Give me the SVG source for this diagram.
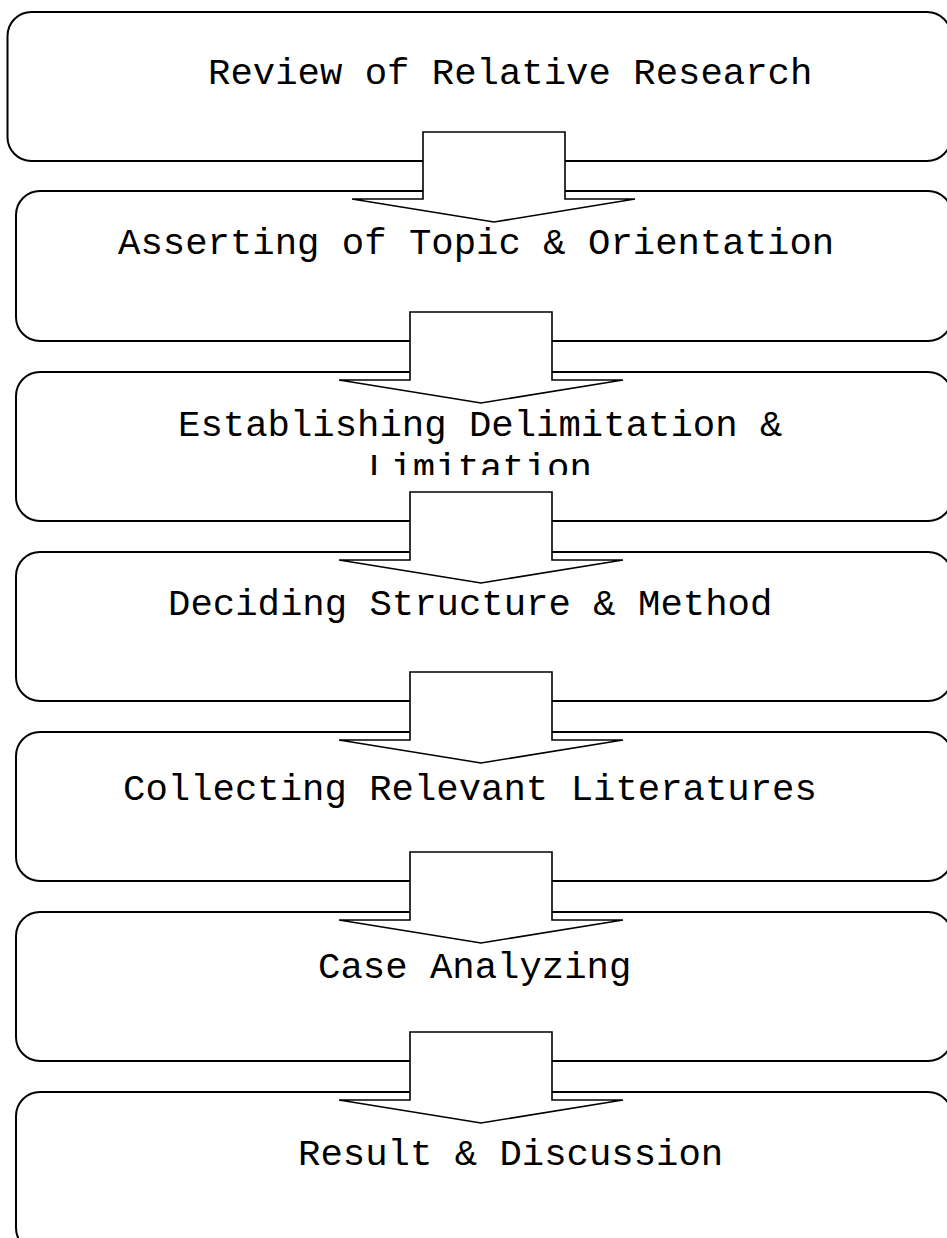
<svg xmlns="http://www.w3.org/2000/svg" width="947" height="1238" viewBox="0 0 947 1238">
  <style>
    .box { fill: #ffffff; stroke: #000000; stroke-width: 2; }
    .arrow { fill: #ffffff; stroke: #000000; stroke-width: 1.6; stroke-linejoin: miter; }
    .label { font-family: "Liberation Mono", "Courier New", monospace; font-size: 37.3px; fill: #000000; }
  </style>
  <defs>
    <clipPath id="clip3">
      <rect x="16" y="372" width="936" height="103"/>
    </clipPath>
  </defs>
  <rect x="0" y="0" width="947" height="1238" fill="#ffffff"/>

  <g id="node-review">
    <rect class="box" x="7.5" y="12" width="943.5" height="149" rx="24" ry="24"/>
    <text class="label" x="208" y="84">Review of Relative Research</text>
  </g>
  <g id="node-asserting">
    <rect class="box" x="16" y="191" width="936" height="150" rx="24" ry="24"/>
    <text class="label" x="118" y="254">Asserting of Topic &amp; Orientation</text>
  </g>
  <g id="node-establishing">
    <rect class="box" x="16" y="372" width="936" height="149" rx="24" ry="24"/>
    <g clip-path="url(#clip3)">
      <text class="label" x="178" y="436">Establishing Delimitation &amp;</text>
      <text class="label" x="368" y="479">Limitation</text>
    </g>
  </g>
  <g id="node-deciding">
    <rect class="box" x="16" y="552" width="936" height="149" rx="24" ry="24"/>
    <text class="label" x="168" y="615">Deciding Structure &amp; Method</text>
  </g>
  <g id="node-collecting">
    <rect class="box" x="16" y="732" width="936" height="149" rx="24" ry="24"/>
    <text class="label" x="123" y="800">Collecting Relevant Literatures</text>
  </g>
  <g id="node-case">
    <rect class="box" x="16" y="912" width="936" height="149" rx="24" ry="24"/>
    <text class="label" x="318" y="978">Case Analyzing</text>
  </g>
  <g id="node-result">
    <rect class="box" x="16" y="1092" width="936" height="160" rx="24" ry="24"/>
    <text class="label" x="298" y="1165">Result &amp; Discussion</text>
  </g>

  <g id="connectors">
    <polygon class="arrow" points="423,132 565,132 565,199 635,199 494,222 352,199 423,199"/>
    <polygon class="arrow" points="410,312 552,312 552,380 623,380 481,403 339,380 410,380"/>
    <polygon class="arrow" points="410,492 552,492 552,560 623,560 481,583 339,560 410,560"/>
    <polygon class="arrow" points="410,672 552,672 552,740 623,740 481,763 339,740 410,740"/>
    <polygon class="arrow" points="410,852 552,852 552,920 623,920 481,943 339,920 410,920"/>
    <polygon class="arrow" points="410,1032 552,1032 552,1100 623,1100 481,1123 339,1100 410,1100"/>
  </g>
</svg>
